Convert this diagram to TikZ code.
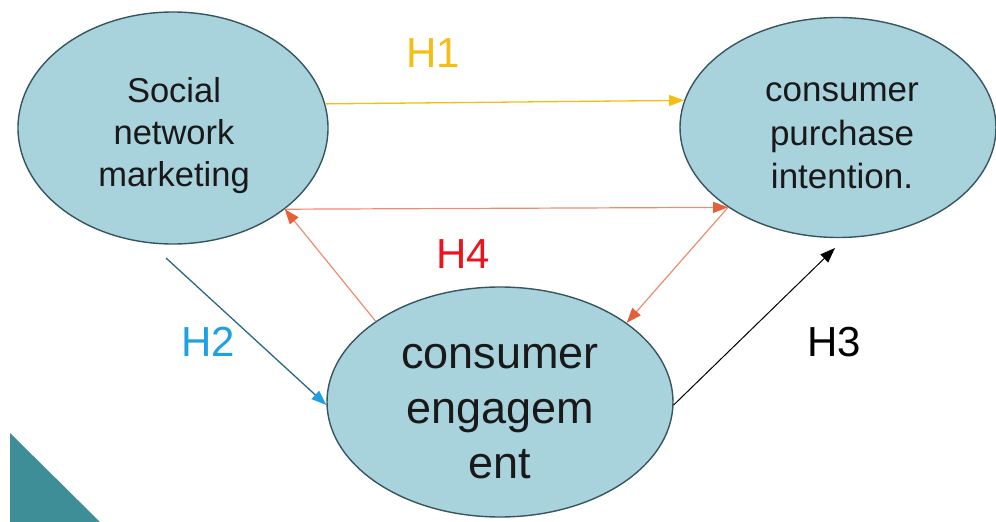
\documentclass[tikz,border=0pt]{standalone}
\usepackage{fontspec}
\setmainfont{Liberation Sans}
\usetikzlibrary{arrows.meta,shapes.geometric}
\definecolor{ellfill}{RGB}{168,210,220}
\definecolor{ellline}{RGB}{55,85,95}
\definecolor{hyellow}{RGB}{246,190,20}
\definecolor{hblue}{RGB}{30,160,225}
\definecolor{bline}{RGB}{40,105,135}
\definecolor{hred}{RGB}{236,20,28}
\definecolor{oline}{RGB}{236,140,112}
\definecolor{otip}{RGB}{228,96,58}
\definecolor{tri}{RGB}{62,142,152}
\begin{document}
\begin{tikzpicture}[x=1pt,y=-1pt,
  construct/.style={ellipse,draw=ellline,line width=1.4pt,fill=ellfill,inner sep=0pt},
  ctext/.style={align=center,inner sep=0pt,text={black!90}},
  hlabel/.style={font=\fontsize{42}{42}\selectfont,inner sep=0pt},
  tipA/.style={-{Triangle[length=15pt,width=11pt]}},
  orangearrow/.style={oline,line width=1.2pt,-{Triangle[length=15pt,width=11pt,color=otip]}}]
\useasboundingbox (0,0) rectangle (996,522);
\fill[tri] (10,433) -- (10,522) -- (100,522) -- cycle;
\node[construct,minimum width=310pt,minimum height=232pt] (snm) at (173,128) {};
\node[construct,minimum width=316pt,minimum height=220pt] (cpi) at (838,127.5) {};
\node[construct,minimum width=346pt,minimum height=230pt] (ce) at (500,402) {};
\node[ctext,font=\fontsize{34.5}{42}\selectfont] (snmt) at (174,136) {Social\\network\\marketing};
\node[ctext,font=\fontsize{35}{43.5}\selectfont] (cpit) at (842,136) {consumer\\purchase\\intention.};
\node[ctext,font=\fontsize{45}{55}\selectfont] (cet) at (500,412) {consumer\\engagem\\ent};
\node[hlabel,text=hyellow] (h1) at (433,53) {H1};
\node[hlabel,text=hblue] (h2) at (208,342) {H2};
\node[hlabel,text=black] (h3) at (834,342) {H3};
\node[hlabel,text=hred] (h4) at (463,254) {H4};
\coordinate (h2s) at (166,258);
\coordinate (h3e) at (835,248);
\draw[hyellow,line width=1.3pt,tipA] (snm.9.8) -- (cpi.170.3);
\draw[orangearrow] (snm.-36.9) -- (cpi.-144);
\draw[orangearrow] (ce.147) -- (snm.-36.9);
\draw[orangearrow] (cpi.-144) -- (ce.32.6);
\draw[bline,line width=1.3pt,-{Triangle[length=15pt,width=11pt,color=hblue]}] (h2s) -- (ce.181);
\draw[black,line width=1pt,tipA] (ce.-1) -- (h3e);
\end{tikzpicture}
\end{document}
